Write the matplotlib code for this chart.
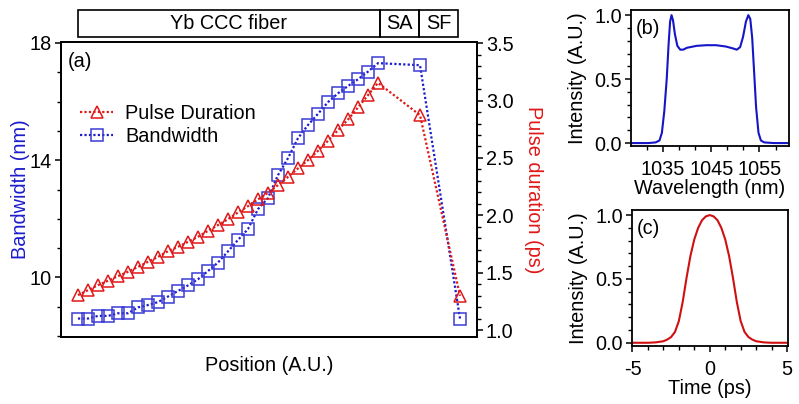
import matplotlib
matplotlib.use('Agg')
import matplotlib.pyplot as plt
import matplotlib.transforms as mtransforms
from matplotlib.patches import Rectangle
from matplotlib.lines import Line2D
from matplotlib.ticker import MultipleLocator, FormatStrFormatter

plt.rcParams['font.family'] = ['Liberation Sans', 'DejaVu Sans']
plt.rcParams['font.size'] = 14.3
plt.rcParams['axes.unicode_minus'] = False

# ---------------- data ----------------
position = list(range(31)) + [34.2, 38.2]
bandwidth = [8.60, 8.60, 8.69, 8.69, 8.78, 8.78, 8.98, 9.06, 9.16, 9.35,
             9.54, 9.73, 9.94, 10.22, 10.51, 10.89, 11.28, 11.65, 12.33, 12.71,
             13.49, 14.07, 14.75, 15.20, 15.58, 15.98, 16.28, 16.53, 16.76, 17.02,
             17.31, 17.24, 8.60]
pulse_duration = [1.305, 1.348, 1.392, 1.430, 1.470, 1.508, 1.551, 1.595, 1.638, 1.688,
                  1.726, 1.769, 1.813, 1.865, 1.915, 1.967, 2.025, 2.080, 2.139, 2.196,
                  2.263, 2.335, 2.409, 2.481, 2.562, 2.649, 2.742, 2.835, 2.940, 3.047,
                  3.154, 2.873, 1.299]
section_names = ['Yb CCC fiber', 'SA', 'SF']
section_edges = [0, 30.2, 34.1, 38.0]
bandwidth_ticks = [10, 14, 18]

wavelength = [1028.5, 1030, 1032, 1033.5, 1034.3, 1034.8, 1035.3, 1035.8, 1036.2, 1036.5,
              1036.8, 1037.1, 1037.5, 1038.0, 1038.6, 1039.2, 1040, 1042, 1044, 1046,
              1048, 1049.5, 1050.3, 1051.0, 1051.6, 1052.2, 1052.7, 1053.1, 1053.5, 1053.9,
              1054.3, 1054.8, 1055.3, 1056, 1058, 1061]
spectrum = [0, 0, 0, 0.005, 0.02, 0.08, 0.25, 0.5, 0.78, 0.95,
            1.0, 0.96, 0.85, 0.76, 0.73, 0.73, 0.745, 0.76, 0.765, 0.765,
            0.755, 0.74, 0.73, 0.75, 0.83, 0.95, 1.0, 0.97, 0.82, 0.55,
            0.28, 0.08, 0.02, 0.005, 0, 0]
wavelength_ticks = [1035, 1045, 1055]

time_ps = [-5, -4.5, -4, -3.5, -3, -2.75, -2.5, -2.25, -2.0, -1.75, -1.5, -1.25, -1.0,
           -0.75, -0.5, -0.25, 0, 0.25, 0.5, 0.75, 1.0, 1.25, 1.5, 1.75, 2.0,
           2.25, 2.5, 2.75, 3, 3.5, 4, 4.5, 5]
pulse = [0, 0, 0, 0.003, 0.012, 0.025, 0.045, 0.085, 0.17, 0.32, 0.51, 0.68, 0.81,
         0.90, 0.96, 0.99, 1.0, 0.99, 0.96, 0.90, 0.81, 0.68, 0.51, 0.32, 0.17,
         0.085, 0.045, 0.025, 0.012, 0.003, 0, 0, 0]
time_ticks = [-5, 0, 5]
intensity_ticks = [0, 0.5, 1.0]

BLUE = '#1c1ccc'
RED = '#e01818'
MAJ_LEN, MIN_LEN = 4.4, 2.6

fig = plt.figure(figsize=(7.99, 4.04), dpi=100)

# ---------------- panel (a) ----------------
ax = fig.add_axes([0.0763, 0.1658, 0.5207, 0.7302])
ax2 = ax.twinx()

ax.plot(position, bandwidth, linestyle=(0, (1, 1)), lw=1.6, color=BLUE,
        marker='s', markersize=8, mfc='none', mec='#3b3bd6', mew=1.1)
ax2.plot(position, pulse_duration, linestyle=(0, (1, 1)), lw=1.6, color=RED,
         marker='^', markersize=8, mfc='none', mec=RED, mew=1.1)

ax.set_xlim(-1.7, 39.9)
ax.set_ylim(7.97, 18.03)
ax2.set_ylim(0.94, 3.51)
ax.set_xticks([])
ax.set_yticks(bandwidth_ticks)
ax.yaxis.set_minor_locator(MultipleLocator(1))
ax2.yaxis.set_major_locator(MultipleLocator(0.5))
ax2.yaxis.set_minor_locator(MultipleLocator(0.1))
ax2.yaxis.set_major_formatter(FormatStrFormatter('%.1f'))
for a in (ax, ax2):
    a.tick_params(axis='y', which='major', length=MAJ_LEN, width=1.1, direction='out', pad=2)
    a.tick_params(axis='y', which='minor', length=MIN_LEN, width=1.0, direction='out')
    for s in a.spines.values():
        s.set_linewidth(1.3)

ax.set_ylabel('Bandwidth (nm)', color=BLUE, labelpad=0)
ax2.set_ylabel('Pulse duration (ps)', color=RED, rotation=270, labelpad=21)
ax.set_xlabel('Position (A.U.)', labelpad=14)
ax.text(0.017, 0.965, '(a)', transform=ax.transAxes, va='top', ha='left')

handles = [Line2D([], [], linestyle=(0, (1, 1)), lw=1.6, color=RED, marker='^',
                  markersize=8, mfc='none', mec=RED, mew=1.1),
           Line2D([], [], linestyle=(0, (1, 1)), lw=1.6, color=BLUE, marker='s',
                  markersize=8, mfc='none', mec='#3b3bd6', mew=1.1)]
ax2.legend(handles, ['Pulse Duration', 'Bandwidth'], loc='upper left',
           bbox_to_anchor=(0.045, 0.79), frameon=False, borderpad=0,
           borderaxespad=0, handlelength=1.7, handletextpad=0.6, labelspacing=0.2)

# top section box
trans = mtransforms.blended_transform_factory(ax.transData, ax.transAxes)
for name, x0, x1 in zip(section_names, section_edges[:-1], section_edges[1:]):
    ax.add_patch(Rectangle((x0, 1.017), x1 - x0, 0.091, transform=trans,
                           fill=False, lw=1.2, ec='black', clip_on=False))
    ax.text((x0 + x1) / 2, 1.0625, name, transform=trans, ha='center',
            va='center', clip_on=False)

# ---------------- panel (b) ----------------
axb = fig.add_axes([0.7897, 0.6386, 0.1977, 0.3366])
axb.plot(wavelength, spectrum, color='#1515c8', lw=1.5)
axb.set_xlim(1028.4, 1061.1)
axb.set_ylim(-0.023, 1.04)
axb.set_xticks(wavelength_ticks)
axb.set_xticks([1035 + k * 10 / 3 for k in range(-1, 8)], minor=True)
axb.set_yticks(intensity_ticks)
axb.set_yticklabels(['0.0', '0.5', '1.0'])
axb.yaxis.set_minor_locator(MultipleLocator(0.1))
axb.set_xlabel('Wavelength (nm)', labelpad=0)
axb.set_ylabel('Intensity (A.U.)', labelpad=5.5)
axb.text(0.032, 0.934, '(b)', transform=axb.transAxes, va='top', ha='left')

# ---------------- panel (c) ----------------
axc = fig.add_axes([0.7906, 0.1443, 0.1956, 0.3359])
axc.plot(time_ps, pulse, color='#d01010', lw=1.5)
axc.set_xlim(-5.05, 5.06)
axc.set_ylim(-0.023, 1.04)
axc.set_xticks(time_ticks)
axc.xaxis.set_minor_locator(MultipleLocator(1))
axc.set_yticks(intensity_ticks)
axc.set_yticklabels(['0.0', '0.5', '1.0'])
axc.yaxis.set_minor_locator(MultipleLocator(0.1))
axc.set_xlabel('Time (ps)', labelpad=0)
axc.set_ylabel('Intensity (A.U.)', labelpad=5.5)
axc.text(0.032, 0.934, '(c)', transform=axc.transAxes, va='top', ha='left')

for a in (axb, axc):
    a.tick_params(which='major', length=MAJ_LEN, width=1.1, direction='out')
    a.tick_params(which='minor', length=MIN_LEN, width=1.0, direction='out')
    a.tick_params(axis='x', pad=6)
    a.tick_params(axis='y', pad=2)
    for s in a.spines.values():
        s.set_linewidth(1.3)

fig.savefig('out.png', dpi=100)
